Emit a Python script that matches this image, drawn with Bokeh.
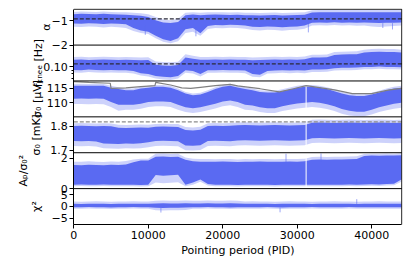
import math
from bokeh.plotting import figure
from bokeh.models import Range1d, LogScale, FixedTicker, CustomJSTickFormatter
from bokeh.core.properties import value
from bokeh.embed import file_html
from bokeh.resources import INLINE

# ---------------- data ----------------
PID = list(range(0, 44001, 1000))

ALPHA_HI = [-0.74,-0.72,-0.73,-0.74,-0.72,-0.74,-0.75,-0.76,
            -0.78,-0.80,-0.85,
            -0.98,-1.07,-1.10,-1.05,
            -0.78,-0.75,-0.78,-0.76,
            -0.75,-0.76,-0.77,-0.76,-0.78,
            -0.78,-0.79,-0.78,-0.77,-0.79,-0.78,-0.77,-0.76,
            -0.67,-0.66,-0.66,-0.65,-0.66,-0.66,-0.65,-0.66,-0.65,-0.66,-0.66,-0.65,-0.66]
ALPHA_LO = [-1.12,-1.13,-1.11,-1.12,-1.14,-1.12,-1.13,-1.15,
            -1.30,-1.40,-1.45,
            -1.62,-1.76,-1.83,-1.72,
            -1.35,-1.30,-1.52,-1.22,
            -1.18,-1.19,-1.17,-1.18,-1.20,
            -1.25,-1.26,-1.24,-1.25,-1.27,-1.25,-1.24,-1.20,
            -1.08,-1.07,-1.08,-1.06,-1.08,-1.07,-1.08,-1.07,-1.09,-1.10,-1.09,-1.08,-1.07]
ALPHA_HI_OUT = [-0.64,-0.62,-0.63,-0.64,-0.62,-0.64,-0.65,-0.66,
                -0.68,-0.70,-0.74,
                -0.85,-0.95,-0.98,-0.92,
                -0.68,-0.65,-0.68,-0.66,
                -0.65,-0.66,-0.67,-0.66,-0.68,
                -0.68,-0.69,-0.68,-0.67,-0.69,-0.68,-0.67,-0.66,
                -0.57,-0.56,-0.56,-0.55,-0.56,-0.56,-0.55,-0.56,-0.55,-0.56,-0.56,-0.55,-0.56]
ALPHA_LO_OUT = [-1.25,-1.26,-1.24,-1.25,-1.28,-1.25,-1.27,-1.30,
                -1.42,-1.50,-1.55,
                -1.72,-1.86,-1.93,-1.84,
                -1.50,-1.45,-1.62,-1.34,
                -1.30,-1.31,-1.29,-1.30,-1.33,
                -1.38,-1.40,-1.37,-1.38,-1.41,-1.38,-1.37,-1.33,
                -1.20,-1.19,-1.20,-1.18,-1.20,-1.19,-1.21,-1.20,-1.24,-1.26,-1.24,-1.22,-1.20]

FK_HI = [0.126,0.127,0.125,0.126,0.127,0.126,0.125,0.126,
         0.125,0.124,0.125,
         0.107,0.105,0.104,0.106,
         0.135,0.130,0.126,0.126,
         0.127,0.126,0.127,0.126,0.126,
         0.124,0.125,0.126,0.127,0.126,0.127,0.126,0.128,
         0.135,0.135,0.136,0.146,0.148,0.149,0.150,0.158,0.160,0.162,0.161,0.160,0.158]
FK_LO = [0.091,0.090,0.092,0.091,0.090,0.091,0.090,0.090,
         0.088,0.082,0.080,
         0.075,0.073,0.072,0.075,
         0.090,0.088,0.080,0.090,
         0.090,0.091,0.090,0.090,0.089,
         0.080,0.078,0.088,0.089,0.090,0.089,0.090,0.089,
         0.092,0.092,0.093,0.096,0.097,0.097,0.098,0.100,0.100,0.101,0.100,0.100,0.099]
FK_HI_OUT = [0.137,0.138,0.136,0.137,0.138,0.137,0.136,0.137,
             0.136,0.135,0.136,
             0.119,0.117,0.116,0.118,
             0.150,0.142,0.137,0.137,
             0.138,0.137,0.138,0.137,0.137,
             0.135,0.136,0.137,0.138,0.137,0.138,0.137,0.139,
             0.147,0.147,0.148,0.160,0.162,0.163,0.164,0.173,0.176,0.178,0.177,0.176,0.173]
FK_LO_OUT = [0.084,0.083,0.085,0.084,0.083,0.084,0.083,0.083,
             0.081,0.076,0.074,
             0.069,0.067,0.066,0.069,
             0.083,0.081,0.074,0.083,
             0.083,0.084,0.083,0.083,0.082,
             0.073,0.072,0.081,0.082,0.083,0.082,0.083,0.082,
             0.085,0.085,0.086,0.089,0.090,0.090,0.091,0.093,0.093,0.094,0.093,0.093,0.092]

S0_HI = [115.95,115.9,115.95,115.9,115.95,115.24,114.76,114.4,114.4,
         115.0,115.24,115.6,115.6,115.24,114.4,
         113.2,112.6,112.86,113.8,114.76,115.6,115.95,115.36,114.76,114.4,
         113.8,113.57,113.57,114.05,114.64,115.24,115.6,115.6,115.24,114.76,
         114.05,113.2,112.6,112.4,112.4,112.86,113.57,114.4,115.0,115.24]
S0_LO = [111.43,111.5,111.4,111.45,111.4,110.24,109.29,109.3,109.29,
         109.64,110.24,110.48,110.48,110.24,109.29,
         108.45,108.1,108.45,109.05,109.64,110.48,110.83,110.24,109.29,109.05,
         108.45,108.1,108.1,108.81,109.29,109.76,110.0,110.24,110.0,109.52,
         108.81,107.86,107.26,106.9,106.9,107.6,108.45,109.05,109.64,110.0]
S0_HI_OUT = [116.6,116.6,116.5,116.6,116.5,115.9,115.4,115.0,115.0,115.6,
             115.9,116.2,116.2,115.9,115.0,113.8,113.2,113.5,114.4,115.4,
             116.2,116.6,116.0,115.4,115.0,114.4,114.2,114.2,114.7,115.3,
             115.9,116.2,116.2,115.9,115.4,114.7,113.8,113.2,113.0,113.0,
             113.5,114.2,115.0,115.6,115.9]
S0_LO_OUT = [109.6,109.6,109.5,109.6,109.5,108.5,107.2,107.6,107.6,107.9,
             108.5,108.8,108.8,108.5,107.6,106.8,106.4,106.8,107.4,108.0,
             108.8,109.1,108.5,107.6,107.4,106.8,106.4,106.4,107.1,107.6,
             108.0,108.3,108.5,108.3,107.8,107.1,106.2,105.6,105.3,105.3,
             105.9,106.8,107.4,107.9,108.3]
GRAY_PID = [0, 2000, 4900, 5000, 7000, 9000, 10900, 11000, 13000, 14500, 15700,
            17000, 19000, 21000, 22000, 25000, 27600, 29500, 31200, 33000, 35200,
            37400, 40000, 42200, 44000]
GRAY_S0 = [117.4, 117.1, 116.8, 115.0, 115.2, 115.6, 115.95, 117.1, 116.2, 115.2, 115.0,
           115.4, 115.95, 116.4, 115.9, 114.9, 113.8, 114.9, 116.0, 115.3, 114.4,
           113.2, 113.2, 114.4, 115.0]

S0K_HI = [1.800,1.801,1.800,1.799,1.800,1.799,
          1.793,1.792,1.793,1.794,1.793,
          1.797,1.798,1.797,1.796,
          1.784,1.782,1.785,
          1.800,1.801,1.800,1.801,
          1.803,1.804,1.803,1.802,1.803,1.804,1.803,1.802,1.803,1.804,
          1.814,1.815,1.814,1.813,1.814,1.815,1.814,1.813,1.814,1.815,1.814,1.813,1.814]
S0K_LO = [1.738,1.737,1.738,1.736,
          1.728,1.727,1.726,1.728,1.727,1.729,
          1.733,
          1.738,1.739,1.738,1.737,
          1.720,1.719,1.721,
          1.738,1.739,1.738,1.737,
          1.740,1.741,1.740,1.739,1.740,1.741,1.740,1.739,1.740,1.741,
          1.750,1.751,1.750,1.749,1.750,1.751,1.750,1.749,1.750,1.751,1.750,1.749,1.750]
S0K_HI_OUT = [1.812,1.813,1.812,1.811,1.812,1.811,
              1.805,1.804,1.805,1.806,1.805,
              1.809,1.810,1.809,1.808,
              1.796,1.794,1.797,
              1.812,1.813,1.812,1.813,
              1.815,1.816,1.815,1.814,1.815,1.816,1.815,1.814,1.815,1.816,
              1.826,1.827,1.826,1.825,1.826,1.827,1.826,1.825,1.826,1.827,1.826,1.825,1.826]
S0K_LO_OUT = [1.718,1.717,1.718,1.716,
              1.708,1.707,1.706,1.708,1.707,1.709,
              1.713,
              1.718,1.719,1.718,1.717,
              1.700,1.699,1.701,
              1.718,1.719,1.718,1.717,
              1.720,1.721,1.720,1.719,1.720,1.721,1.720,1.719,1.720,1.721,
              1.730,1.731,1.730,1.729,1.730,1.731,1.730,1.729,1.730,1.731,1.730,1.729,1.730]

AP_HI = [1.56,1.55,1.58,1.56,1.54,1.57,1.56,1.60,
         1.74,1.85,1.85,
         2.10,2.12,2.08,2.10,
         1.90,1.80,1.78,1.78,
         1.77,1.79,1.78,1.76,1.78,1.77,1.79,1.78,1.77,1.78,1.79,1.78,1.80,
         1.90,1.92,1.91,1.93,1.92,1.94,1.95,
         2.15,2.18,2.17,2.19,2.18,2.20]
AP_LO = [0.26,0.27,0.25,0.26,0.27,0.26,0.25,0.26,
         0.26,0.24,0.25,
         0.90,0.85,0.88,0.92,
         0.25,0.40,0.60,0.30,
         0.25,0.26,0.25,0.24,0.26,0.25,0.26,0.25,0.24,0.26,0.25,0.26,0.25,
         0.26,0.25,0.26,0.25,0.26,0.27,0.26,
         0.28,0.29,0.28,0.30,0.32,0.60]
AP_HI_OUT = [1.78,1.77,1.80,1.78,1.76,1.79,1.78,1.82,
             1.92,1.98,1.98,
             2.30,2.32,2.28,2.30,
             2.05,1.98,1.96,1.95,
             1.94,1.96,1.95,1.93,1.95,1.94,1.96,1.95,1.94,1.95,1.96,1.95,1.97,
             2.08,2.10,2.09,2.11,2.10,2.12,2.13,
             2.28,2.30,2.30,2.32,2.31,2.33]
AP_LO_OUT = [0.16,0.17,0.15,0.16,0.17,0.16,0.15,0.16,
             0.16,0.14,0.15,
             0.40,0.35,0.38,0.42,
             0.15,0.25,0.45,0.20,
             0.15,0.16,0.15,0.14,0.16,0.15,0.16,0.15,0.14,0.16,0.15,0.16,0.15,
             0.16,0.15,0.16,0.15,0.16,0.17,0.16,
             0.18,0.19,0.18,0.20,0.22,0.45]

CHI_HI = [1.1,1.0,1.1,1.2,1.1,1.0,1.1,1.1,1.2,1.1,1.1,
          1.3,1.4,1.3,1.3,1.4,1.3,1.3,1.4,1.3,1.3,1.4,1.3,
          1.1,1.2,1.1,1.1,1.0,1.1,1.2,1.1,1.1,1.0,1.1,1.1,1.2,1.1,1.1,1.0,1.1,1.1,1.2,1.1,1.1,1.1]
CHI_LO = [-0.3,-0.3,-0.2,-0.3,-0.3,-0.4,-0.3,-0.3,-0.2,-0.3,-0.3,
          -0.6,-0.7,-0.6,-0.6,-0.5,
          -0.3,-0.3,-0.2,-0.3,-0.3,-0.4,-0.3,-0.3,-0.3,-0.3,-0.2,-0.3,-0.4,-0.3,
          -0.3,-0.3,-0.2,-0.3,-0.3,-0.3,-0.3,-0.2,-0.3,-0.3,-0.3,-0.3,-0.3,-0.3,-0.3]
CHI_HI_OUT = [2.1,2.0,2.1,2.2,2.1,2.0,2.1,2.1,2.2,2.1,2.1,
              2.4,2.5,2.4,2.4,2.5,2.4,2.4,2.5,2.4,2.4,2.5,2.4,
              2.1,2.2,2.1,2.1,2.0,2.1,2.2,2.1,2.1,2.0,2.1,2.1,2.2,2.1,2.1,2.0,2.1,2.1,2.2,2.1,2.1,2.1]
CHI_LO_OUT = [-1.0,-1.0,-0.9,-1.0,-1.0,-1.1,-1.0,-1.0,-0.9,-1.0,-1.0,
              -1.6,-1.7,-1.6,-1.6,-1.5,
              -1.0,-1.0,-0.9,-1.0,-1.0,-1.1,-1.0,-1.0,-1.0,-1.0,-0.9,-1.0,-1.1,-1.0,
              -1.0,-1.0,-0.9,-1.0,-1.0,-1.0,-1.0,-0.9,-1.0,-1.0,-1.0,-1.0,-1.0,-1.0,-1.0]

# individual spikes: (panel, PID, from, to)
SPIKE_PANEL = [0, 0, 0, 0, 0, 4, 4, 5, 5, 5]
SPIKE_PID = [9600, 16400, 31500, 41500, 42800, 28500, 33200, 11700, 27700, 38000]
SPIKE_FROM = [-1.2, -1.3, -1.1, -1.1, -1.1, 1.7, 1.8, -0.5, -0.5, 1.0]
SPIKE_TO = [-1.58, -1.64, -1.48, -1.30, -1.36, 2.30, 2.32, -2.6, -2.5, 3.1]
GAP_PID = [31200]

REF_LEVELS = {0: -0.93, 1: 0.11, 3: 1.817}

PANEL_LABELS = ["α", "fₖₙₑₑ [Hz]", "σ₀ [μV]", "σ₀ [mK]", "Aₚ/σ₀²", "χ²"]
PANEL_LIMITS = [(-2.0, -0.53), (0.064, 0.2), (105.1, 117.6), (1.690, 1.838), (0.0, 2.37), (-7.7, 7.6)]
PANEL_LOG = [False, True, False, False, False, False]
PANEL_TICKS = [[-2, -1], [0.1], [110, 115], [1.7, 1.8], [0, 2], [-5, 0, 5]]
PANEL_TICK_LABELS = [["−2", "−1"], ["0.10"], ["110", "115"], ["1.7", "1.8"], ["0", "2"], ["−5", "0", "5"]]
PANEL_MINOR = [[], [0.07, 0.08, 0.09], [], [], [], []]
X_TICKS = [0, 10000, 20000, 30000, 40000]
X_LABEL = "Pointing period (PID)"
X_END = 44050

BANDS = [
    (ALPHA_LO_OUT, ALPHA_HI_OUT, ALPHA_LO, ALPHA_HI),
    (FK_LO_OUT, FK_HI_OUT, FK_LO, FK_HI),
    (S0_LO_OUT, S0_HI_OUT, S0_LO, S0_HI),
    (S0K_LO_OUT, S0K_HI_OUT, S0K_LO, S0K_HI),
    (AP_LO_OUT, AP_HI_OUT, AP_LO, AP_HI),
    (CHI_LO_OUT, CHI_HI_OUT, CHI_LO, CHI_HI),
]

# ---------------- layout / style (pixels) ----------------
BLUE = "#5A6AF2"
FONT = "DejaVu Sans"
N = 6
W, H = 408, 262
BORDER_L, BORDER_R, BORDER_T = 2, 6, 8
FRAME_W = W - BORDER_L - BORDER_R
FRAME_H = H - BORDER_T
AXIS_PX = 71.3          # frame left -> y axis
PAD_PX = 0.7            # room for right / top box lines
STACK_PX = 215.3        # height of the six stacked panels
BELOW_PX = FRAME_H - PAD_PX - STACK_PX   # room for x ticks + title
TITLE_DY = 26           # x title centre below the bottom panel
LABEL_DX = [-27, -35, -36, -37, -50, -37]   # panel label centres left of the y axis

UNIT = X_END / (FRAME_W - AXIS_PX - PAD_PX)     # PID per px
SLOT = STACK_PX / N                              # px per panel

p = figure(width=W, height=H, output_backend="svg", toolbar_location=None,
           x_range=Range1d(-AXIS_PX * UNIT, X_END + PAD_PX * UNIT),
           y_range=Range1d(-BELOW_PX / SLOT, N + PAD_PX / SLOT),
           min_border_left=BORDER_L, min_border_right=BORDER_R,
           min_border_top=BORDER_T, min_border_bottom=0)
p.xgrid.visible = False
p.ygrid.visible = False
p.outline_line_color = None
p.background_fill_color = "white"
p.border_fill_color = "white"

y0, y1 = p.y_range.start, p.y_range.end


def slot(k, v):
    a, b = PANEL_LIMITS[k]
    if PANEL_LOG[k]:
        frac = (math.log10(v) - math.log10(a)) / (math.log10(b) - math.log10(a))
    else:
        frac = (v - a) / (b - a)
    return (N - 1 - k) + frac


for k in range(N):
    a, b = PANEL_LIMITS[k]
    name = f"p{k}"
    below = (N - 1 - k) - y0
    above = y1 - (N - k)
    if PANEL_LOG[k]:
        la, lb = math.log10(a), math.log10(b)
        p.extra_y_ranges[name] = Range1d(10 ** (la - below * (lb - la)), 10 ** (lb + above * (lb - la)))
        p.extra_y_scales[name] = LogScale()
    else:
        p.extra_y_ranges[name] = Range1d(a - below * (b - a), b + above * (b - a))

for k in range(N):
    name = f"p{k}"
    lo_o, hi_o, lo, hi = BANDS[k]
    p.varea(x=PID, y1=lo_o, y2=hi_o, fill_color=BLUE, fill_alpha=0.3, y_range_name=name)
    p.varea(x=PID, y1=lo, y2=hi, fill_color=BLUE, fill_alpha=1.0, y_range_name=name)
    sx = [s for s, pk in zip(SPIKE_PID, SPIKE_PANEL) if pk == k]
    if sx:
        s0 = [s for s, pk in zip(SPIKE_FROM, SPIKE_PANEL) if pk == k]
        s1 = [s for s, pk in zip(SPIKE_TO, SPIKE_PANEL) if pk == k]
        p.segment(x0=sx, y0=s0, x1=sx, y1=s1, line_color=BLUE, line_alpha=0.6,
                  line_width=1, y_range_name=name)

# white data gap in panels 3-5
for k in (2, 3, 4):
    a, b = PANEL_LIMITS[k]
    p.segment(x0=GAP_PID, y0=[a] * len(GAP_PID), x1=GAP_PID, y1=[b] * len(GAP_PID),
              line_color="white", line_width=1, y_range_name=f"p{k}")

# gray reference curve in sigma0 [uV]
p.line(GRAY_PID, GRAY_S0, line_color="#808080", line_width=1.2, y_range_name="p2")

# dashed reference levels
for k, lev in REF_LEVELS.items():
    col = "#8c8c8c" if k == 3 else "#2b2b3a"
    p.segment(x0=[0], y0=[lev], x1=[X_END], y1=[lev], y_range_name=f"p{k}",
              line_color=col, line_dash="4 2", line_width=1.3)

# panel box: dividers, top and right edges
box_y = list(range(1, N + 1))
p.segment(x0=[0] * len(box_y), y0=box_y, x1=[X_END] * len(box_y), y1=box_y,
          line_color="black", line_width=1)
p.segment(x0=[X_END], y0=[0], x1=[X_END], y1=[N], line_color="black", line_width=1)

# left axis, pinned at x = 0, with per-panel ticks
major_pos, major_lab, minor_pos = [], [], []
for k in range(N):
    for v, t in zip(PANEL_TICKS[k], PANEL_TICK_LABELS[k]):
        major_pos.append(round(slot(k, v), 6))
        major_lab.append(t)
    for v in PANEL_MINOR[k]:
        minor_pos.append(round(slot(k, v), 6))

yax = p.yaxis[0]
yax.fixed_location = 0
yax.bounds = (0, N)
yax.ticker = FixedTicker(ticks=major_pos, minor_ticks=minor_pos)
yax.formatter = CustomJSTickFormatter(args=dict(pos=major_pos, labs=major_lab), code="""
let best = -1, d = 1e9;
for (let i = 0; i < pos.length; i++) {
  const e = Math.abs(pos[i] - tick);
  if (e < d) { d = e; best = i; }
}
return d < 1e-5 ? labs[best] : "";
""")
yax.major_tick_out = 4
yax.major_tick_in = 0
yax.minor_tick_out = 2
yax.minor_tick_in = 0
yax.major_label_text_font = FONT
yax.major_label_text_font_size = "11px"
yax.major_label_text_color = "black"
yax.major_label_standoff = 2
yax.axis_line_color = "black"

# bottom axis, pinned at the bottom of the last panel
xax = p.xaxis[0]
xax.fixed_location = 0
xax.bounds = (0, X_END)
xax.ticker = FixedTicker(ticks=X_TICKS, minor_ticks=[])
xax.major_tick_out = 4
xax.major_tick_in = 0
xax.major_label_text_font = FONT
xax.major_label_text_font_size = "11px"
xax.major_label_text_color = "black"
xax.major_label_standoff = 2
xax.axis_line_color = "black"

# x title and rotated panel labels, as text glyphs inside the widened frame
p.text(x=[X_END / 2], y=[-TITLE_DY / SLOT], text=[X_LABEL], text_align="center",
       text_baseline="middle", text_font=value(FONT), text_font_size=value("11px"),
       text_color="black")
p.text(x=[dx * UNIT for dx in LABEL_DX], y=[N - 1 - k + 0.5 for k in range(N)],
       text=PANEL_LABELS, angle=math.pi / 2, text_align="center", text_baseline="middle",
       text_font=value(FONT), text_font_size=value("11px"), text_color="black")

open("out.html", "w").write(file_html(p, INLINE))
